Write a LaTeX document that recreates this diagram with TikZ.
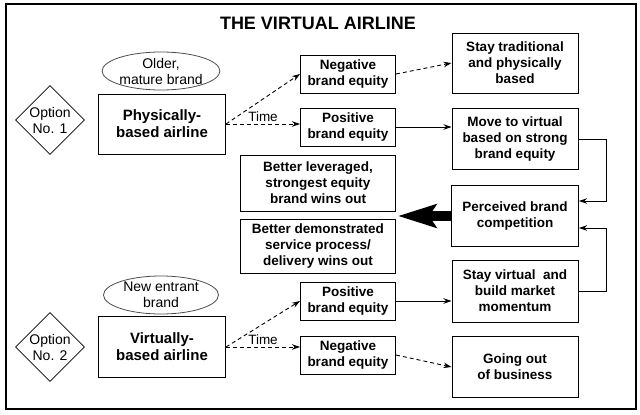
\documentclass[tikz,border=0pt]{standalone}
\usepackage{fontspec}
\setmainfont{Liberation Sans}
\usetikzlibrary{arrows.meta,shapes.geometric,calc}
\begin{document}
\begin{tikzpicture}[x=1pt,y=-1pt,
  box/.style={draw, line width=1pt, align=center, inner sep=0pt,
    font=\bfseries\fontsize{13.5}{16}\selectfont},
  bigbox/.style={box, font=\bfseries\fontsize{15}{17}\selectfont},
  optbox/.style={draw, diamond, aspect=1, line width=0.8pt, inner sep=0pt,
    minimum width=69pt, minimum height=69pt, align=center,
    font=\fontsize{14}{16}\selectfont},
  brandbox/.style={draw=black!70, ellipse, line width=0.8pt, inner sep=0pt,
    minimum width=115pt, minimum height=38pt, align=center,
    font=\fontsize{14}{16}\selectfont},
  arr/.style={line width=0.9pt, -{Stealth[length=8pt,width=5.5pt]}},
  darr/.style={arr, dash pattern=on 4pt off 3pt},
  bigarrow/.style={line width=10pt, -{Stealth[length=38pt,width=23pt,inset=7pt]}},
  timelbl/.style={midway, above, inner sep=1.5pt, font=\fontsize{13.5}{16}\selectfont}
]
\useasboundingbox (0,0) rectangle (640,415);
\draw[line width=1.1pt] (6,4) rectangle (636,409);
\node[font=\bfseries\fontsize{18}{20}\selectfont] (title) at (318,23) {THE VIRTUAL AIRLINE};

% top option
\node[optbox] (opt1) at (50,120) {Option\\No. 1};
\node[brandbox] (old) at (161,71) {Older,\\mature brand};
\node[bigbox, minimum width=127pt, minimum height=60pt] (phys) at (162,124) {Physically-\\based airline};
\node[box, minimum width=95pt, minimum height=38pt] (neg1) at (348,74) {Negative\\brand equity};
\node[box, minimum width=95pt, minimum height=38pt] (pos1) at (348,127) {Positive\\brand equity};
\node[box, minimum width=126pt, minimum height=60pt] (stay) at (515,63) {Stay traditional\\and physically\\based};
\node[box, minimum width=126pt, minimum height=61pt] (move) at (515,139) {Move to virtual\\based on strong\\brand equity};

% middle
\node[box, minimum width=155pt, minimum height=56pt] (lev) at (318,183) {Better leveraged,\\strongest equity\\brand wins out};
\node[box, minimum width=155pt, minimum height=54pt] (dem) at (318,246) {Better demonstrated\\service process/\\delivery wins out};
\node[box, minimum width=127pt, minimum height=61pt] (pbc) at (515,216) {Perceived brand\\competition};
\coordinate (bigtip) at (398,215);

% bottom option
\node[optbox] (opt2) at (50,347) {Option\\No. 2};
\node[brandbox] (newb) at (161,295) {New entrant\\brand};
\node[bigbox, minimum width=127pt, minimum height=61pt] (virt) at (162,347) {Virtually-\\based airline};
\node[box, minimum width=95pt, minimum height=38pt] (pos2) at (348,301) {Positive\\brand equity};
\node[box, minimum width=95pt, minimum height=38pt] (neg2) at (348,355) {Negative\\brand equity};
\node[box, minimum width=126pt, minimum height=62pt] (sv) at (515,291) {Stay virtual\ \ and\\build market\\momentum};
\node[box, minimum width=126pt, minimum height=61pt] (gob) at (515,367) {Going out\\of business};

% connectors top
\draw[darr] (phys.east) -- (neg1.west);
\draw[darr] (phys.east) -- (phys.east -| pos1.west) node[timelbl] {Time};
\draw[darr] (neg1.east) -- (stay.west);
\draw[arr] (pos1.east) -- (pos1.east -| move.west);
\draw[arr] (move.east) -- ++(28,0) |- ([yshift=15pt]pbc.east);
\draw[arr] (sv.east) -- ++(28,0) |- ([yshift=-12pt]pbc.east);
\draw[bigarrow] (pbc.west) -- (pbc.west -| bigtip);

% connectors bottom
\draw[darr] (virt.east) -- (pos2.west);
\draw[darr] (virt.east) -- (virt.east -| neg2.west) node[timelbl] {Time};
\draw[arr] (pos2.east) -- (pos2.east -| sv.west);
\draw[darr] (neg2.east) -- (gob.west);
\end{tikzpicture}
\end{document}
